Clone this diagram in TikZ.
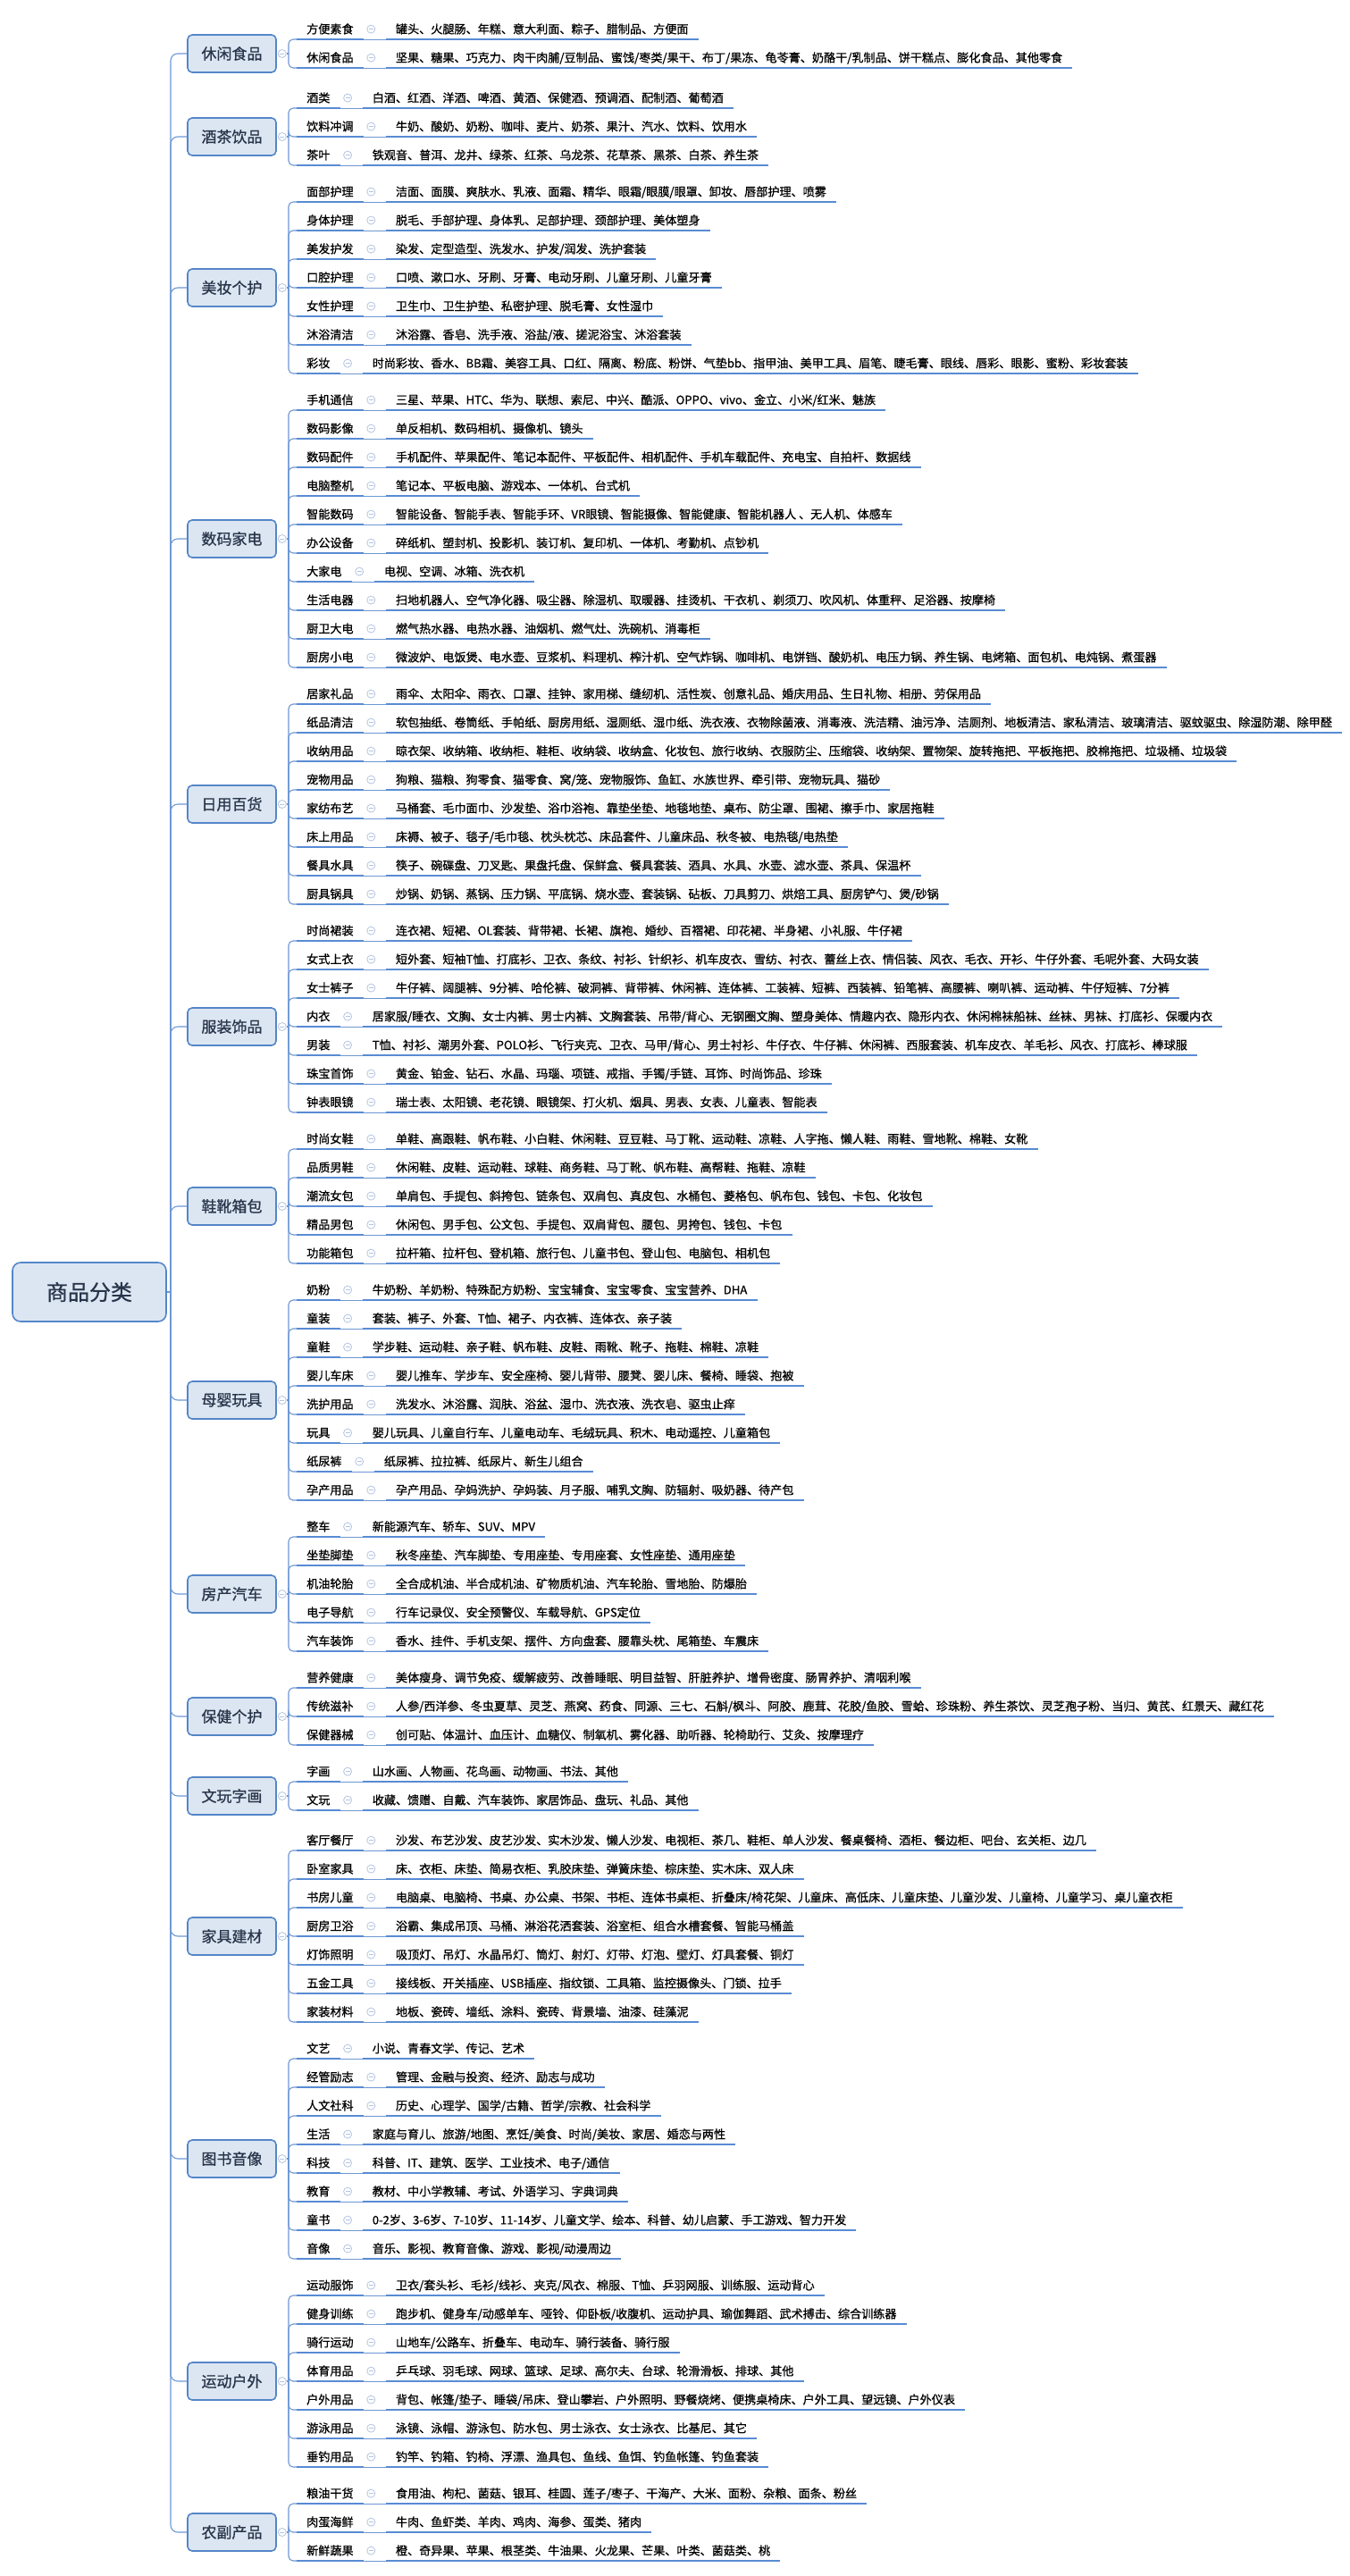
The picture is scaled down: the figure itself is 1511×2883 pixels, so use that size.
\documentclass[tikz,border=0pt]{standalone}
\usepackage{fontspec}
\setmainfont{Noto Sans CJK SC}
\newfontfamily\rowfont{Noto Sans CJK SC}[FakeBold=0.8]
\usepackage{tikz}
\usetikzlibrary{calc}
\definecolor{catfill}{RGB}{220,230,242}
\definecolor{catedge}{RGB}{84,134,200}
\definecolor{catink}{RGB}{40,52,74}
\definecolor{barblue}{RGB}{88,139,212}
\definecolor{linkblue}{RGB}{110,152,212}
\definecolor{foldgray}{RGB}{180,196,226}
\newcommand{\ycur}{44}
\newcommand{\curcat}{}
\newcommand{\mapcat}[3]{%
	\pgfmathsetmacro{\ycat}{\ycur+16*(#3-1)}
	\node[catbox] (#1) at (259.5,\ycat) {#2};
	\node[fold] (#1o) at ([xshift=6pt]#1.east) {};
	\coordinate (#1b) at (323,\ycat);
	\draw[branch, rounded corners=8pt] (trunk) |- (#1.west);
	\draw[branch] (#1o) -- (#1b);
	\renewcommand{\curcat}{#1}%
}
\newcommand{\maprow}[3]{%
	\node[rowlabel] (#1) at (332,\ycur) {#2};
	\node[rowitems] (#1x) at ([xshift=25pt]#1.south east) {#3};
	\node[fold] (#1o) at ([xshift=8.5pt,yshift=11.4pt]#1.south east) {};
	\draw[bar] (#1.south west) -- (#1.south east);
	\draw[bar] (#1x.south west) -- (#1x.south east);
	\draw[link] (#1.south east) -- (#1x.south west);
	\draw[branch, rounded corners=5pt] (\curcat b) |- (#1.south west);
	\pgfmathsetmacro{\ycur}{\ycur+32}%
}
\newcommand{\mapgap}[1]{\pgfmathsetmacro{\ycur}{\ycur+#1}}

\begin{document}
\begin{tikzpicture}[x=1pt, y=-1pt,
	catbox/.style={draw=catedge, line width=1.6pt, fill=catfill, rounded corners=5pt, minimum width=99pt, minimum height=42pt, inner sep=0pt, text=catink, font=\rowfont\fontsize{17}{20}\selectfont},
	rootbox/.style={catbox, rounded corners=9pt, minimum width=172pt, minimum height=66pt, font=\rowfont\fontsize{24}{28}\selectfont},
	rowlabel/.style={anchor=south west, inner xsep=11pt, inner ysep=3.5pt, text height=10.5pt, text depth=2.9pt, font=\rowfont\fontsize{13.1}{15}\selectfont},
	rowitems/.style={rowlabel},
	fold/.style={circle, draw=foldgray, fill=white, line width=0.8pt, minimum size=9pt, inner sep=0pt,
		path picture={\draw[foldgray, line width=0.8pt] ([xshift=-2.4pt]path picture bounding box.center) -- ([xshift=2.4pt]path picture bounding box.center);}},
	bar/.style={barblue, line width=2.4pt},
	link/.style={linkblue, line width=0.9pt},
	branch/.style={linkblue, line width=1.1pt}]
\useasboundingbox (0,0) rectangle (1511,2883);
\fill[white] (0,0) rectangle (1511,2883);

% Draw root
\node[rootbox] (root) at (100,1446) {商品分类};
\coordinate (trunk) at (191,1446);
\draw[branch] (root.east) -- (trunk);

% 休闲食品
\mapcat{food}{休闲食品}{2}
\maprow{food1}{方便素食}{罐头、火腿肠、年糕、意大利面、粽子、腊制品、方便面}
\maprow{food2}{休闲食品}{坚果、糖果、巧克力、肉干肉脯/豆制品、蜜饯/枣类/果干、布丁/果冻、龟苓膏、奶酪干/乳制品、饼干糕点、膨化食品、其他零食}
\mapgap{13}

% 酒茶饮品
\mapcat{drink}{酒茶饮品}{3}
\maprow{drink1}{酒类}{白酒、红酒、洋酒、啤酒、黄酒、保健酒、预调酒、配制酒、葡萄酒}
\maprow{drink2}{饮料冲调}{牛奶、酸奶、奶粉、咖啡、麦片、奶茶、果汁、汽水、饮料、饮用水}
\maprow{drink3}{茶叶}{铁观音、普洱、龙井、绿茶、红茶、乌龙茶、花草茶、黑茶、白茶、养生茶}
\mapgap{9}

% 美妆个护
\mapcat{beauty}{美妆个护}{7}
\maprow{beauty1}{面部护理}{洁面、面膜、爽肤水、乳液、面霜、精华、眼霜/眼膜/眼罩、卸妆、唇部护理、喷雾}
\maprow{beauty2}{身体护理}{脱毛、手部护理、身体乳、足部护理、颈部护理、美体塑身}
\maprow{beauty3}{美发护发}{染发、定型造型、洗发水、护发/润发、洗护套装}
\maprow{beauty4}{口腔护理}{口喷、漱口水、牙刷、牙膏、电动牙刷、儿童牙刷、儿童牙膏}
\maprow{beauty5}{女性护理}{卫生巾、卫生护垫、私密护理、脱毛膏、女性湿巾}
\maprow{beauty6}{沐浴清洁}{沐浴露、香皂、洗手液、浴盐/液、搓泥浴宝、沐浴套装}
\maprow{beauty7}{彩妆}{时尚彩妆、香水、BB霜、美容工具、口红、隔离、粉底、粉饼、气垫bb、指甲油、美甲工具、眉笔、睫毛膏、眼线、唇彩、眼影、蜜粉、彩妆套装}
\mapgap{9}

% 数码家电
\mapcat{digital}{数码家电}{10}
\maprow{digital1}{手机通信}{三星、苹果、HTC、华为、联想、索尼、中兴、酷派、OPPO、vivo、金立、小米/红米、魅族}
\maprow{digital2}{数码影像}{单反相机、数码相机、摄像机、镜头}
\maprow{digital3}{数码配件}{手机配件、苹果配件、笔记本配件、平板配件、相机配件、手机车载配件、充电宝、自拍杆、数据线}
\maprow{digital4}{电脑整机}{笔记本、平板电脑、游戏本、一体机、台式机}
\maprow{digital5}{智能数码}{智能设备、智能手表、智能手环、VR眼镜、智能摄像、智能健康、智能机器人 、无人机、体感车}
\maprow{digital6}{办公设备}{碎纸机、塑封机、投影机、装订机、复印机、一体机、考勤机、点钞机}
\maprow{digital7}{大家电}{电视、空调、冰箱、洗衣机}
\maprow{digital8}{生活电器}{扫地机器人、空气净化器、吸尘器、除湿机、取暖器、挂烫机、干衣机 、剃须刀、吹风机、体重秤、足浴器、按摩椅}
\maprow{digital9}{厨卫大电}{燃气热水器、电热水器、油烟机、燃气灶、洗碗机、消毒柜}
\maprow{digital10}{厨房小电}{微波炉、电饭煲、电水壶、豆浆机、料理机、榨汁机、空气炸锅、咖啡机、电饼铛、酸奶机、电压力锅、养生锅、电烤箱、面包机、电炖锅、煮蛋器}
\mapgap{9}

% 日用百货
\mapcat{daily}{日用百货}{8}
\maprow{daily1}{居家礼品}{雨伞、太阳伞、雨衣、口罩、挂钟、家用梯、缝纫机、活性炭、创意礼品、婚庆用品、生日礼物、相册、劳保用品}
\maprow{daily2}{纸品清洁}{软包抽纸、卷筒纸、手帕纸、厨房用纸、湿厕纸、湿巾纸、洗衣液、衣物除菌液、消毒液、洗洁精、油污净、洁厕剂、地板清洁、家私清洁、玻璃清洁、驱蚊驱虫、除湿防潮、除甲醛}
\maprow{daily3}{收纳用品}{晾衣架、收纳箱、收纳柜、鞋柜、收纳袋、收纳盒、化妆包、旅行收纳、衣服防尘、压缩袋、收纳架、置物架、旋转拖把、平板拖把、胶棉拖把、垃圾桶、垃圾袋}
\maprow{daily4}{宠物用品}{狗粮、猫粮、狗零食、猫零食、窝/笼、宠物服饰、鱼缸、水族世界、牵引带、宠物玩具、猫砂}
\maprow{daily5}{家纺布艺}{马桶套、毛巾面巾、沙发垫、浴巾浴袍、靠垫坐垫、地毯地垫、桌布、防尘罩、围裙、擦手巾、家居拖鞋}
\maprow{daily6}{床上用品}{床褥、被子、毯子/毛巾毯、枕头枕芯、床品套件、儿童床品、秋冬被、电热毯/电热垫}
\maprow{daily7}{餐具水具}{筷子、碗碟盘、刀叉匙、果盘托盘、保鲜盒、餐具套装、酒具、水具、水壶、滤水壶、茶具、保温杯}
\maprow{daily8}{厨具锅具}{炒锅、奶锅、蒸锅、压力锅、平底锅、烧水壶、套装锅、砧板、刀具剪刀、烘焙工具、厨房铲勺、煲/砂锅}
\mapgap{9}

% 服装饰品
\mapcat{apparel}{服装饰品}{7}
\maprow{apparel1}{时尚裙装}{连衣裙、短裙、OL套装、背带裙、长裙、旗袍、婚纱、百褶裙、印花裙、半身裙、小礼服、牛仔裙}
\maprow{apparel2}{女式上衣}{短外套、短袖T恤、打底衫、卫衣、条纹、衬衫、针织衫、机车皮衣、雪纺、衬衣、蕾丝上衣、情侣装、风衣、毛衣、开衫、牛仔外套、毛呢外套、大码女装}
\maprow{apparel3}{女士裤子}{牛仔裤、阔腿裤、9分裤、哈伦裤、破洞裤、背带裤、休闲裤、连体裤、工装裤、短裤、西装裤、铅笔裤、高腰裤、喇叭裤、运动裤、牛仔短裤、7分裤}
\maprow{apparel4}{内衣}{居家服/睡衣、文胸、女士内裤、男士内裤、文胸套装、吊带/背心、无钢圈文胸、塑身美体、情趣内衣、隐形内衣、休闲棉袜船袜、丝袜、男袜、打底衫、保暖内衣}
\maprow{apparel5}{男装}{T恤、衬衫、潮男外套、POLO衫、飞行夹克、卫衣、马甲/背心、男士衬衫、牛仔衣、牛仔裤、休闲裤、西服套装、机车皮衣、羊毛衫、风衣、打底衫、棒球服}
\maprow{apparel6}{珠宝首饰}{黄金、铂金、钻石、水晶、玛瑙、项链、戒指、手镯/手链、耳饰、时尚饰品、珍珠}
\maprow{apparel7}{钟表眼镜}{瑞士表、太阳镜、老花镜、眼镜架、打火机、烟具、男表、女表、儿童表、智能表}
\mapgap{9}

% 鞋靴箱包
\mapcat{shoes}{鞋靴箱包}{5}
\maprow{shoes1}{时尚女鞋}{单鞋、高跟鞋、帆布鞋、小白鞋、休闲鞋、豆豆鞋、马丁靴、运动鞋、凉鞋、人字拖、懒人鞋、雨鞋、雪地靴、棉鞋、女靴}
\maprow{shoes2}{品质男鞋}{休闲鞋、皮鞋、运动鞋、球鞋、商务鞋、马丁靴、帆布鞋、高帮鞋、拖鞋、凉鞋}
\maprow{shoes3}{潮流女包}{单肩包、手提包、斜挎包、链条包、双肩包、真皮包、水桶包、菱格包、帆布包、钱包、卡包、化妆包}
\maprow{shoes4}{精品男包}{休闲包、男手包、公文包、手提包、双肩背包、腰包、男挎包、钱包、卡包}
\maprow{shoes5}{功能箱包}{拉杆箱、拉杆包、登机箱、旅行包、儿童书包、登山包、电脑包、相机包}
\mapgap{9}

% 母婴玩具
\mapcat{baby}{母婴玩具}{8}
\maprow{baby1}{奶粉}{牛奶粉、羊奶粉、特殊配方奶粉、宝宝辅食、宝宝零食、宝宝营养、DHA}
\maprow{baby2}{童装}{套装、裤子、外套、T恤、裙子、内衣裤、连体衣、亲子装}
\maprow{baby3}{童鞋}{学步鞋、运动鞋、亲子鞋、帆布鞋、皮鞋、雨靴、靴子、拖鞋、棉鞋、凉鞋}
\maprow{baby4}{婴儿车床}{婴儿推车、学步车、安全座椅、婴儿背带、腰凳、婴儿床、餐椅、睡袋、抱被}
\maprow{baby5}{洗护用品}{洗发水、沐浴露、润肤、浴盆、湿巾、洗衣液、洗衣皂、驱虫止痒}
\maprow{baby6}{玩具}{婴儿玩具、儿童自行车、儿童电动车、毛绒玩具、积木、电动遥控、儿童箱包}
\maprow{baby7}{纸尿裤}{纸尿裤、拉拉裤、纸尿片、新生儿组合}
\maprow{baby8}{孕产用品}{孕产用品、孕妈洗护、孕妈装、月子服、哺乳文胸、防辐射、吸奶器、待产包}
\mapgap{9}

% 房产汽车
\mapcat{car}{房产汽车}{5}
\maprow{car1}{整车}{新能源汽车、轿车、SUV、MPV}
\maprow{car2}{坐垫脚垫}{秋冬座垫、汽车脚垫、专用座垫、专用座套、女性座垫、通用座垫}
\maprow{car3}{机油轮胎}{全合成机油、半合成机油、矿物质机油、汽车轮胎、雪地胎、防爆胎}
\maprow{car4}{电子导航}{行车记录仪、安全预警仪、车载导航、GPS定位}
\maprow{car5}{汽车装饰}{香水、挂件、手机支架、摆件、方向盘套、腰靠头枕、尾箱垫、车震床}
\mapgap{9}

% 保健个护
\mapcat{health}{保健个护}{3}
\maprow{health1}{营养健康}{美体瘦身、调节免疫、缓解疲劳、改善睡眠、明目益智、肝脏养护、增骨密度、肠胃养护、清咽利喉}
\maprow{health2}{传统滋补}{人参/西洋参、冬虫夏草、灵芝、燕窝、药食、同源、三七、石斛/枫斗、阿胶、鹿茸、花胶/鱼胶、雪蛤、珍珠粉、养生茶饮、灵芝孢子粉、当归、黄芪、红景天、藏红花}
\maprow{health3}{保健器械}{创可贴、体温计、血压计、血糖仪、制氧机、雾化器、助听器、轮椅助行、艾灸、按摩理疗}
\mapgap{9}

% 文玩字画
\mapcat{art}{文玩字画}{2}
\maprow{art1}{字画}{山水画、人物画、花鸟画、动物画、书法、其他}
\maprow{art2}{文玩}{收藏、馈赠、自戴、汽车装饰、家居饰品、盘玩、礼品、其他}
\mapgap{13}

% 家具建材
\mapcat{home}{家具建材}{7}
\maprow{home1}{客厅餐厅}{沙发、布艺沙发、皮艺沙发、实木沙发、懒人沙发、电视柜、茶几、鞋柜、单人沙发、餐桌餐椅、酒柜、餐边柜、吧台、玄关柜、边几}
\maprow{home2}{卧室家具}{床、衣柜、床垫、简易衣柜、乳胶床垫、弹簧床垫、棕床垫、实木床、双人床}
\maprow{home3}{书房儿童}{电脑桌、电脑椅、书桌、办公桌、书架、书柜、连体书桌柜、折叠床/椅花架、儿童床、高低床、儿童床垫、儿童沙发、儿童椅、儿童学习、桌儿童衣柜}
\maprow{home4}{厨房卫浴}{浴霸、集成吊顶、马桶、淋浴花洒套装、浴室柜、组合水槽套餐、智能马桶盖}
\maprow{home5}{灯饰照明}{吸顶灯、吊灯、水晶吊灯、筒灯、射灯、灯带、灯泡、壁灯、灯具套餐、铜灯}
\maprow{home6}{五金工具}{接线板、开关插座、USB插座、指纹锁、工具箱、监控摄像头、门锁、拉手}
\maprow{home7}{家装材料}{地板、瓷砖、墙纸、涂料、瓷砖、背景墙、油漆、硅藻泥}
\mapgap{9}

% 图书音像
\mapcat{books}{图书音像}{8}
\maprow{books1}{文艺}{小说、青春文学、传记、艺术}
\maprow{books2}{经管励志}{管理、金融与投资、经济、励志与成功}
\maprow{books3}{人文社科}{历史、心理学、国学/古籍、哲学/宗教、社会科学}
\maprow{books4}{生活}{家庭与育儿、旅游/地图、烹饪/美食、时尚/美妆、家居、婚恋与两性}
\maprow{books5}{科技}{科普、IT、建筑、医学、工业技术、电子/通信}
\maprow{books6}{教育}{教材、中小学教辅、考试、外语学习、字典词典}
\maprow{books7}{童书}{0-2岁、3-6岁、7-10岁、11-14岁、儿童文学、绘本、科普、幼儿启蒙、手工游戏、智力开发}
\maprow{books8}{音像}{音乐、影视、教育音像、游戏、影视/动漫周边}
\mapgap{9}

% 运动户外
\mapcat{sport}{运动户外}{7}
\maprow{sport1}{运动服饰}{卫衣/套头衫、毛衫/线衫、夹克/风衣、棉服、T恤、乒羽网服、训练服、运动背心}
\maprow{sport2}{健身训练}{跑步机、健身车/动感单车、哑铃、仰卧板/收腹机、运动护具、瑜伽舞蹈、武术搏击、综合训练器}
\maprow{sport3}{骑行运动}{山地车/公路车、折叠车、电动车、骑行装备、骑行服}
\maprow{sport4}{体育用品}{乒乓球、羽毛球、网球、篮球、足球、高尔夫、台球、轮滑滑板、排球、其他}
\maprow{sport5}{户外用品}{背包、帐篷/垫子、睡袋/吊床、登山攀岩、户外照明、野餐烧烤、便携桌椅床、户外工具、望远镜、户外仪表}
\maprow{sport6}{游泳用品}{泳镜、泳帽、游泳包、防水包、男士泳衣、女士泳衣、比基尼、其它}
\maprow{sport7}{垂钓用品}{钓竿、钓箱、钓椅、浮漂、渔具包、鱼线、鱼饵、钓鱼帐篷、钓鱼套装}
\mapgap{9}

% 农副产品
\mapcat{farm}{农副产品}{3}
\maprow{farm1}{粮油干货}{食用油、枸杞、菌菇、银耳、桂圆、莲子/枣子、干海产、大米、面粉、杂粮、面条、粉丝}
\maprow{farm2}{肉蛋海鲜}{牛肉、鱼虾类、羊肉、鸡肉、海参、蛋类、猪肉}
\maprow{farm3}{新鲜蔬果}{橙、奇异果、苹果、根茎类、牛油果、火龙果、芒果、叶类、菌菇类、桃}
\end{tikzpicture}
\end{document}
